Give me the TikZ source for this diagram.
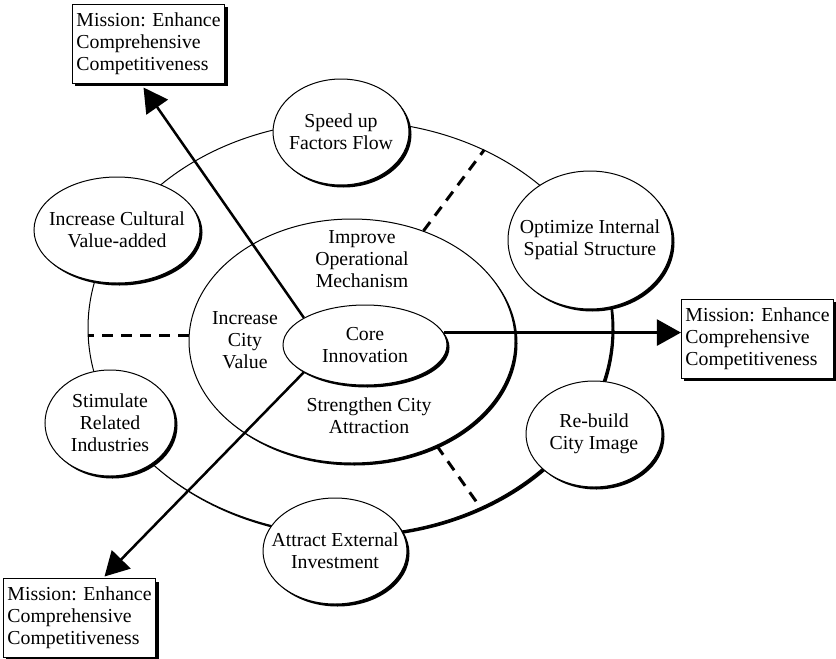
\documentclass[tikz,border=0pt]{standalone}
\usepackage{fontspec}
\setmainfont{Liberation Serif}
\usetikzlibrary{shapes.geometric,shadows,arrows.meta,calc}
\begin{document}
\begin{tikzpicture}[x=1pt,y=-1pt,
  every node/.style={font=\fontsize{19.8}{22}\selectfont},
  oval/.style={ellipse,draw,line width=1pt,fill=white,inner sep=0pt,
    drop shadow={shadow xshift=2.5pt,shadow yshift=-2.5pt,opacity=1,fill=black}},
  lbl/.style={align=center,inner sep=0pt},
  mission/.style={rectangle,draw,line width=1pt,fill=white,align=left,inner xsep=4pt,
    minimum width=151pt,minimum height=79pt,
    drop shadow={shadow xshift=3pt,shadow yshift=-3pt,opacity=1,fill=black}},
  arr/.style={line width=2.5pt,-{Triangle[length=24pt,width=26pt]}},
  dsh/.style={line width=3pt,dash pattern=on 11pt off 8pt}
]
\useasboundingbox (0,0) rectangle (836,659);
% outer ring and inner ellipse
\node[oval,minimum width=524pt,minimum height=414pt] (ring) at (350,328) {};
\node[oval,minimum width=326pt,minimum height=244pt] (inner) at (352,341) {};
% dashed separators
\draw[dsh] (inner.57.4) -- (ring.53.5);
\draw[dsh] (inner.178) -- (inner.178 -| ring.west);
\draw[dsh] (inner.-51) -- (ring.-54.8);
% core
\node[oval,minimum width=164pt,minimum height=80pt] (core) at (365,345) {};
\node[lbl] at (core) {Core\\Innovation};
% inner texts
\node[lbl] (timprove) at (362,259) {Improve\\Operational\\Mechanism};
\node[lbl] (tcity) at (245,340) {Increase\\City\\Value};
\node[lbl] (tstrength) at (369,416) {Strengthen City\\Attraction};
% satellites
\node[oval,minimum width=136pt,minimum height=106pt] (speed) at (341,132) {};
\node[lbl] at (speed) {Speed up\\Factors Flow};
\node[oval,minimum width=166pt,minimum height=106pt] (cultural) at (117,230) {};
\node[lbl] at (cultural) {Increase Cultural\\Value-added};
\node[oval,minimum width=164pt,minimum height=138pt] (optimize) at (590,240) {};
\node[lbl] at (optimize) {Optimize Internal\\Spatial Structure};
\node[oval,minimum width=136pt,minimum height=106pt] (rebuild) at (594,434) {};
\node[lbl] at (rebuild) {Re-build\\City Image};
\node[oval,minimum width=130pt,minimum height=106pt] (stimulate) at (110,423) {};
\node[lbl] at (stimulate) {Stimulate\\Related\\Industries};
\node[oval,minimum width=144pt,minimum height=106pt] (attract) at (335,551) {};
\node[lbl] at (attract) {Attract External\\Investment};
% mission boxes
\node[mission] (box1) at (148.5,43.5) {Mission: Enhance\\Comprehensive\\Competitiveness};
\node[mission] (box2) at (757.5,338.5) {Mission: Enhance\\Comprehensive\\Competitiveness};
\node[mission] (box3) at (79.5,618) {Mission: Enhance\\Comprehensive\\Competitiveness};
% arrows
\draw[arr] (core.156) -- ([xshift=-5pt,yshift=-4pt]box1.south);
\draw[arr] (core.9) -- (core.9 -| box2.west);
\draw[arr] (core.204) -- ([xshift=25pt,yshift=1.5pt]box3.north);
\end{tikzpicture}
\end{document}
